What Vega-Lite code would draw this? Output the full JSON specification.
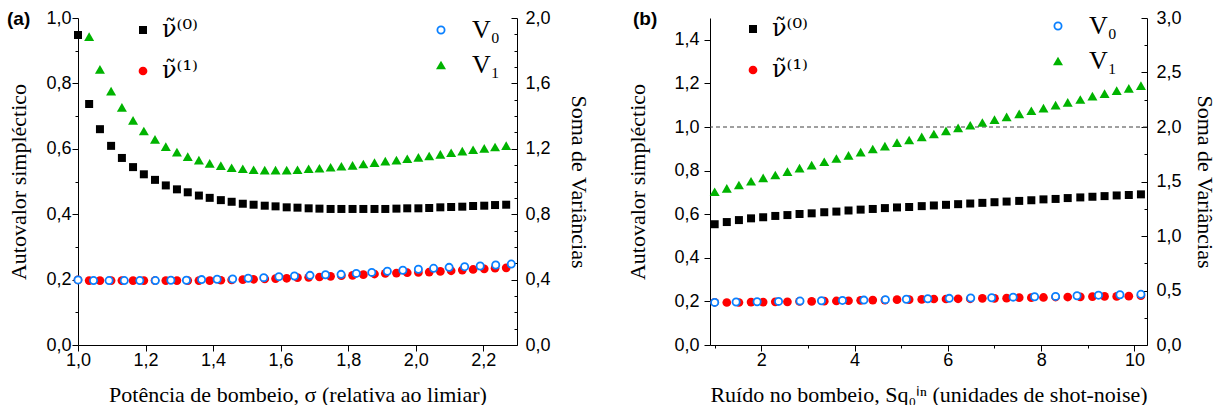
{
  "$schema": "https://vega.github.io/schema/vega-lite/v6.json",
  "padding": {"left": 7, "top": 9, "right": 5, "bottom": 0},
  "bounds": "flush",
  "spacing": 193,
  "config": {
    "view": {"stroke": null},
    "axis": {"domainColor": "#000", "tickColor": "#000", "labelColor": "#000", "titleColor": "#000", "labelFont": "Liberation Sans", "labelFontSize": 18, "titleFont": "Liberation Serif", "titleFontSize": 22, "titleFontWeight": "normal", "grid": false, "labelFlush": false, "labelOverlap": false, "domainWidth": 1, "tickWidth": 1},
    "legend": {"labelColor": "#000", "labelFont": "DejaVu Serif", "labelFontSize": 24, "padding": 0, "title": null}
  },
  "datasets": {
    "aL": [
      {"s":"n0","x":1.000,"v":0.948},{"s":"n0","x":1.033,"v":0.737},{"s":"n0","x":1.065,"v":0.660},{"s":"n0","x":1.098,"v":0.609},{"s":"n0","x":1.130,"v":0.572},{"s":"n0","x":1.163,"v":0.544},{"s":"n0","x":1.195,"v":0.522},{"s":"n0","x":1.228,"v":0.505},{"s":"n0","x":1.260,"v":0.488},{"s":"n0","x":1.293,"v":0.476},
      {"s":"n0","x":1.325,"v":0.467},{"s":"n0","x":1.358,"v":0.457},{"s":"n0","x":1.390,"v":0.450},{"s":"n0","x":1.423,"v":0.443},{"s":"n0","x":1.455,"v":0.438},{"s":"n0","x":1.488,"v":0.432},{"s":"n0","x":1.520,"v":0.429},{"s":"n0","x":1.553,"v":0.426},{"s":"n0","x":1.585,"v":0.424},{"s":"n0","x":1.618,"v":0.421},
      {"s":"n0","x":1.650,"v":0.420},{"s":"n0","x":1.683,"v":0.418},{"s":"n0","x":1.715,"v":0.417},{"s":"n0","x":1.748,"v":0.416},{"s":"n0","x":1.780,"v":0.416},{"s":"n0","x":1.813,"v":0.416},{"s":"n0","x":1.845,"v":0.416},{"s":"n0","x":1.878,"v":0.416},{"s":"n0","x":1.910,"v":0.416},{"s":"n0","x":1.943,"v":0.417},
      {"s":"n0","x":1.975,"v":0.418},{"s":"n0","x":2.008,"v":0.418},{"s":"n0","x":2.040,"v":0.419},{"s":"n0","x":2.073,"v":0.421},{"s":"n0","x":2.105,"v":0.422},{"s":"n0","x":2.138,"v":0.423},{"s":"n0","x":2.170,"v":0.425},{"s":"n0","x":2.203,"v":0.426},{"s":"n0","x":2.235,"v":0.428},{"s":"n0","x":2.268,"v":0.429},
      {"s":"n1","x":1.000,"v":0.199},{"s":"n1","x":1.033,"v":0.197},{"s":"n1","x":1.065,"v":0.197},{"s":"n1","x":1.098,"v":0.197},{"s":"n1","x":1.130,"v":0.197},{"s":"n1","x":1.163,"v":0.197},{"s":"n1","x":1.195,"v":0.197},{"s":"n1","x":1.228,"v":0.197},{"s":"n1","x":1.260,"v":0.197},{"s":"n1","x":1.293,"v":0.197},
      {"s":"n1","x":1.325,"v":0.197},{"s":"n1","x":1.358,"v":0.197},{"s":"n1","x":1.390,"v":0.197},{"s":"n1","x":1.423,"v":0.198},{"s":"n1","x":1.455,"v":0.199},{"s":"n1","x":1.488,"v":0.200},{"s":"n1","x":1.520,"v":0.201},{"s":"n1","x":1.553,"v":0.202},{"s":"n1","x":1.585,"v":0.203},{"s":"n1","x":1.618,"v":0.204},
      {"s":"n1","x":1.650,"v":0.206},{"s":"n1","x":1.683,"v":0.207},{"s":"n1","x":1.715,"v":0.208},{"s":"n1","x":1.748,"v":0.210},{"s":"n1","x":1.780,"v":0.212},{"s":"n1","x":1.813,"v":0.213},{"s":"n1","x":1.845,"v":0.215},{"s":"n1","x":1.878,"v":0.217},{"s":"n1","x":1.910,"v":0.219},{"s":"n1","x":1.943,"v":0.220},
      {"s":"n1","x":1.975,"v":0.221},{"s":"n1","x":2.008,"v":0.222},{"s":"n1","x":2.040,"v":0.223},{"s":"n1","x":2.073,"v":0.225},{"s":"n1","x":2.105,"v":0.227},{"s":"n1","x":2.138,"v":0.229},{"s":"n1","x":2.170,"v":0.231},{"s":"n1","x":2.203,"v":0.233},{"s":"n1","x":2.235,"v":0.235},{"s":"n1","x":2.268,"v":0.236}
    ],
    "aR": [
      {"s":"V0","x":1.000,"v":0.398},{"s":"V0","x":1.046,"v":0.394},{"s":"V0","x":1.092,"v":0.394},{"s":"V0","x":1.137,"v":0.394},{"s":"V0","x":1.183,"v":0.394},{"s":"V0","x":1.229,"v":0.394},{"s":"V0","x":1.275,"v":0.396},{"s":"V0","x":1.321,"v":0.396},{"s":"V0","x":1.366,"v":0.400},{"s":"V0","x":1.412,"v":0.402},
      {"s":"V0","x":1.458,"v":0.404},{"s":"V0","x":1.504,"v":0.408},{"s":"V0","x":1.550,"v":0.412},{"s":"V0","x":1.595,"v":0.418},{"s":"V0","x":1.641,"v":0.422},{"s":"V0","x":1.687,"v":0.426},{"s":"V0","x":1.733,"v":0.430},{"s":"V0","x":1.779,"v":0.432},{"s":"V0","x":1.824,"v":0.438},{"s":"V0","x":1.870,"v":0.444},
      {"s":"V0","x":1.916,"v":0.451},{"s":"V0","x":1.962,"v":0.457},{"s":"V0","x":2.008,"v":0.463},{"s":"V0","x":2.053,"v":0.469},{"s":"V0","x":2.099,"v":0.475},{"s":"V0","x":2.145,"v":0.479},{"s":"V0","x":2.191,"v":0.483},{"s":"V0","x":2.237,"v":0.489},{"s":"V0","x":2.283,"v":0.495},
      {"s":"V1","x":1.033,"v":1.886},{"s":"V1","x":1.065,"v":1.686},{"s":"V1","x":1.098,"v":1.553},{"s":"V1","x":1.130,"v":1.453},{"s":"V1","x":1.163,"v":1.374},{"s":"V1","x":1.195,"v":1.309},{"s":"V1","x":1.228,"v":1.258},{"s":"V1","x":1.260,"v":1.213},{"s":"V1","x":1.293,"v":1.180},
      {"s":"V1","x":1.325,"v":1.152},{"s":"V1","x":1.358,"v":1.131},{"s":"V1","x":1.390,"v":1.111},{"s":"V1","x":1.423,"v":1.097},{"s":"V1","x":1.455,"v":1.084},{"s":"V1","x":1.488,"v":1.078},{"s":"V1","x":1.520,"v":1.072},{"s":"V1","x":1.553,"v":1.070},{"s":"V1","x":1.585,"v":1.070},{"s":"V1","x":1.618,"v":1.070},
      {"s":"V1","x":1.650,"v":1.072},{"s":"V1","x":1.683,"v":1.078},{"s":"V1","x":1.715,"v":1.081},{"s":"V1","x":1.748,"v":1.087},{"s":"V1","x":1.780,"v":1.093},{"s":"V1","x":1.813,"v":1.099},{"s":"V1","x":1.845,"v":1.107},{"s":"V1","x":1.878,"v":1.115},{"s":"V1","x":1.910,"v":1.125},{"s":"V1","x":1.943,"v":1.131},
      {"s":"V1","x":1.975,"v":1.139},{"s":"V1","x":2.008,"v":1.148},{"s":"V1","x":2.040,"v":1.156},{"s":"V1","x":2.073,"v":1.166},{"s":"V1","x":2.105,"v":1.176},{"s":"V1","x":2.138,"v":1.186},{"s":"V1","x":2.170,"v":1.194},{"s":"V1","x":2.203,"v":1.203},{"s":"V1","x":2.235,"v":1.211},{"s":"V1","x":2.268,"v":1.219}
    ],
    "bL": [
      {"s":"n0","x":1.00,"v":0.554},{"s":"n0","x":1.26,"v":0.564},{"s":"n0","x":1.52,"v":0.573},{"s":"n0","x":1.78,"v":0.581},{"s":"n0","x":2.04,"v":0.586},{"s":"n0","x":2.30,"v":0.592},{"s":"n0","x":2.56,"v":0.596},{"s":"n0","x":2.82,"v":0.601},{"s":"n0","x":3.08,"v":0.604},{"s":"n0","x":3.35,"v":0.609},
      {"s":"n0","x":3.61,"v":0.612},{"s":"n0","x":3.87,"v":0.617},{"s":"n0","x":4.13,"v":0.621},{"s":"n0","x":4.39,"v":0.624},{"s":"n0","x":4.65,"v":0.628},{"s":"n0","x":4.91,"v":0.631},{"s":"n0","x":5.17,"v":0.633},{"s":"n0","x":5.44,"v":0.637},{"s":"n0","x":5.70,"v":0.640},{"s":"n0","x":5.96,"v":0.643},
      {"s":"n0","x":6.22,"v":0.646},{"s":"n0","x":6.48,"v":0.649},{"s":"n0","x":6.74,"v":0.652},{"s":"n0","x":7.00,"v":0.655},{"s":"n0","x":7.26,"v":0.658},{"s":"n0","x":7.53,"v":0.661},{"s":"n0","x":7.79,"v":0.664},{"s":"n0","x":8.05,"v":0.668},{"s":"n0","x":8.31,"v":0.670},{"s":"n0","x":8.57,"v":0.674},
      {"s":"n0","x":8.84,"v":0.677},{"s":"n0","x":9.10,"v":0.680},{"s":"n0","x":9.36,"v":0.683},{"s":"n0","x":9.62,"v":0.686},{"s":"n0","x":9.88,"v":0.688},{"s":"n0","x":10.14,"v":0.691},
      {"s":"n1","x":1.00,"v":0.196},{"s":"n1","x":1.26,"v":0.195},{"s":"n1","x":1.52,"v":0.195},{"s":"n1","x":1.78,"v":0.197},{"s":"n1","x":2.04,"v":0.197},{"s":"n1","x":2.30,"v":0.198},{"s":"n1","x":2.56,"v":0.198},{"s":"n1","x":2.82,"v":0.200},{"s":"n1","x":3.08,"v":0.200},{"s":"n1","x":3.35,"v":0.201},
      {"s":"n1","x":3.61,"v":0.202},{"s":"n1","x":3.87,"v":0.203},{"s":"n1","x":4.13,"v":0.205},{"s":"n1","x":4.39,"v":0.206},{"s":"n1","x":4.65,"v":0.206},{"s":"n1","x":4.91,"v":0.208},{"s":"n1","x":5.17,"v":0.208},{"s":"n1","x":5.44,"v":0.209},{"s":"n1","x":5.70,"v":0.211},{"s":"n1","x":5.96,"v":0.211},
      {"s":"n1","x":6.22,"v":0.212},{"s":"n1","x":6.48,"v":0.212},{"s":"n1","x":6.74,"v":0.214},{"s":"n1","x":7.00,"v":0.214},{"s":"n1","x":7.26,"v":0.215},{"s":"n1","x":7.53,"v":0.217},{"s":"n1","x":7.79,"v":0.217},{"s":"n1","x":8.05,"v":0.218},{"s":"n1","x":8.31,"v":0.220},{"s":"n1","x":8.57,"v":0.220},
      {"s":"n1","x":8.84,"v":0.221},{"s":"n1","x":9.10,"v":0.222},{"s":"n1","x":9.36,"v":0.223},{"s":"n1","x":9.62,"v":0.223},{"s":"n1","x":9.88,"v":0.224},{"s":"n1","x":10.14,"v":0.226}
    ],
    "bR": [
      {"s":"V0","x":1.00,"v":0.391},{"s":"V0","x":1.46,"v":0.394},{"s":"V0","x":1.91,"v":0.397},{"s":"V0","x":2.37,"v":0.400},{"s":"V0","x":2.83,"v":0.403},{"s":"V0","x":3.29,"v":0.406},{"s":"V0","x":3.74,"v":0.409},{"s":"V0","x":4.20,"v":0.412},{"s":"V0","x":4.66,"v":0.416},{"s":"V0","x":5.11,"v":0.420},
      {"s":"V0","x":5.57,"v":0.424},{"s":"V0","x":6.03,"v":0.428},{"s":"V0","x":6.49,"v":0.431},{"s":"V0","x":6.94,"v":0.434},{"s":"V0","x":7.40,"v":0.439},{"s":"V0","x":7.86,"v":0.443},{"s":"V0","x":8.31,"v":0.446},{"s":"V0","x":8.77,"v":0.452},{"s":"V0","x":9.23,"v":0.457},{"s":"V0","x":9.69,"v":0.461},{"s":"V0","x":10.14,"v":0.465},
      {"s":"V1","x":1.00,"v":1.406},{"s":"V1","x":1.26,"v":1.437},{"s":"V1","x":1.52,"v":1.468},{"s":"V1","x":1.78,"v":1.502},{"s":"V1","x":2.04,"v":1.533},{"s":"V1","x":2.30,"v":1.560},{"s":"V1","x":2.56,"v":1.591},{"s":"V1","x":2.82,"v":1.622},{"s":"V1","x":3.08,"v":1.650},{"s":"V1","x":3.35,"v":1.681},
      {"s":"V1","x":3.61,"v":1.711},{"s":"V1","x":3.87,"v":1.739},{"s":"V1","x":4.13,"v":1.770},{"s":"V1","x":4.39,"v":1.798},{"s":"V1","x":4.65,"v":1.825},{"s":"V1","x":4.91,"v":1.856},{"s":"V1","x":5.17,"v":1.881},{"s":"V1","x":5.44,"v":1.909},{"s":"V1","x":5.70,"v":1.936},{"s":"V1","x":5.96,"v":1.964},
      {"s":"V1","x":6.22,"v":1.992},{"s":"V1","x":6.48,"v":2.016},{"s":"V1","x":6.74,"v":2.041},{"s":"V1","x":7.00,"v":2.068},{"s":"V1","x":7.26,"v":2.093},{"s":"V1","x":7.53,"v":2.121},{"s":"V1","x":7.79,"v":2.149},{"s":"V1","x":8.05,"v":2.173},{"s":"V1","x":8.31,"v":2.200},{"s":"V1","x":8.57,"v":2.226},
      {"s":"V1","x":8.84,"v":2.252},{"s":"V1","x":9.10,"v":2.283},{"s":"V1","x":9.36,"v":2.306},{"s":"V1","x":9.62,"v":2.333},{"s":"V1","x":9.88,"v":2.355},{"s":"V1","x":10.14,"v":2.379}
    ]
  },
  "hconcat": [
    {
      "width": 439,
      "height": 327,
      "title": {"text": "(a)", "anchor": "start", "frame": "group", "orient": "top", "dx": -71, "dy": 20, "offset": 0, "baseline": "top", "font": "Liberation Sans", "fontSize": 19, "fontWeight": "bold", "color": "#000"},
      "layer": [
        {
          "data": {"name": "aL"},
          "mark": {"type": "point", "filled": true, "opacity": 1, "strokeWidth": 0},
          "encoding": {
            "x": {"field": "x", "type": "quantitative", "scale": {"domain": [1.0, 2.3], "nice": false, "zero": false},
              "axis": {"orient": "bottom", "values": [1.0, 1.1, 1.2, 1.3, 1.4, 1.5, 1.6, 1.7, 1.8, 1.9, 2.0, 2.1, 2.2, 2.3],
                "labelExpr": "abs(datum.value*5-round(datum.value*5))<0.01 ? replace(format(datum.value,'.1f'),'.',',') : ''",
                "tickSize": {"condition": {"test": "abs(datum.value*5-round(datum.value*5))<0.01", "value": 6}, "value": 3},
                "labelPadding": 0, "title": "Potência de bombeio, σ (relativa ao limiar)", "titlePadding": 15}},
            "y": {"field": "v", "type": "quantitative", "scale": {"domain": [0, 1.0], "nice": false},
              "axis": {"orient": "left", "values": [0, 0.1, 0.2, 0.3, 0.4, 0.5, 0.6, 0.7, 0.8, 0.9, 1.0],
                "labelExpr": "abs(datum.value*5-round(datum.value*5))<0.01 ? replace(format(datum.value,'.1f'),'.',',') : ''",
                "tickSize": {"condition": {"test": "abs(datum.value*5-round(datum.value*5))<0.01", "value": 6}, "value": 3},
                "labelPadding": 1, "title": "Autovalor simpléctico", "titlePadding": 15}},
            "shape": {"field": "s", "type": "nominal", "scale": {"domain": ["n0", "n1"], "range": ["square", "circle"]},
              "legend": {"orient": "none", "legendX": 53, "legendY": 0, "labelExpr": "datum.label == 'n0' ? 'ν̃⁽⁰⁾' : 'ν̃⁽¹⁾'", "labelOffset": 7, "rowPadding": 17, "symbolStrokeWidth": 0}},
            "fill": {"field": "s", "type": "nominal", "scale": {"domain": ["n0", "n1"], "range": ["#000000", "#ff0000"]},
              "legend": {"orient": "none", "legendX": 53, "legendY": 0, "labelExpr": "datum.label == 'n0' ? 'ν̃⁽⁰⁾' : 'ν̃⁽¹⁾'", "labelOffset": 7, "rowPadding": 17, "symbolStrokeWidth": 0}},
            "size": {"field": "s", "type": "ordinal", "scale": {"type": "ordinal", "domain": ["n0", "n1"], "range": [64, 76]},
              "legend": {"orient": "none", "legendX": 53, "legendY": 0, "labelExpr": "datum.label == 'n0' ? 'ν̃⁽⁰⁾' : 'ν̃⁽¹⁾'", "labelOffset": 7, "rowPadding": 17, "symbolStrokeWidth": 0}}
          }
        },
        {
          "data": {"name": "aR"},
          "mark": {"type": "point", "filled": true, "opacity": 1, "strokeWidth": 1.8},
          "encoding": {
            "x": {"field": "x", "type": "quantitative"},
            "y": {"field": "v", "type": "quantitative", "scale": {"domain": [0, 2.0], "nice": false},
              "axis": {"orient": "right", "values": [0, 0.1, 0.2, 0.3, 0.4, 0.5, 0.6, 0.7, 0.8, 0.9, 1.0, 1.1, 1.2, 1.3, 1.4, 1.5, 1.6, 1.7, 1.8, 1.9, 2.0],
                "labelExpr": "abs(datum.value*2.5-round(datum.value*2.5))<0.01 ? replace(format(datum.value,'.1f'),'.',',') : ''",
                "tickSize": {"condition": {"test": "abs(datum.value*2.5-round(datum.value*2.5))<0.01", "value": -6}, "value": -3},
                "labelPadding": 14, "title": "Soma de Variâncias", "titlePadding": 16}},
            "shape": {"field": "s", "type": "nominal", "scale": {"domain": ["V0", "V1"], "range": ["circle", "triangle-up"]},
              "legend": {"orient": "none", "legendX": 350, "legendY": -1, "labelExpr": "datum.label == 'V0' ? 'V₀' : 'V₁'", "labelFont": "Liberation Serif", "labelFontSize": 26, "labelOffset": 18, "rowPadding": 9, "symbolStrokeWidth": 1.8}},
            "fill": {"field": "s", "type": "nominal", "scale": {"domain": ["V0", "V1"], "range": ["#ffffff", "#00b300"]},
              "legend": {"orient": "none", "legendX": 350, "legendY": -1, "labelExpr": "datum.label == 'V0' ? 'V₀' : 'V₁'", "labelFont": "Liberation Serif", "labelFontSize": 26, "labelOffset": 18, "rowPadding": 9, "symbolStrokeWidth": 1.8}},
            "stroke": {"field": "s", "type": "nominal", "scale": {"domain": ["V0", "V1"], "range": ["#0a80ff", "rgba(0,0,0,0)"]},
              "legend": {"orient": "none", "legendX": 350, "legendY": -1, "labelExpr": "datum.label == 'V0' ? 'V₀' : 'V₁'", "labelFont": "Liberation Serif", "labelFontSize": 26, "labelOffset": 18, "rowPadding": 9, "symbolStrokeWidth": 1.8}},
            "size": {"field": "s", "type": "ordinal", "scale": {"type": "ordinal", "domain": ["V0", "V1"], "range": [52, 100]},
              "legend": {"orient": "none", "legendX": 350, "legendY": -1, "labelExpr": "datum.label == 'V0' ? 'V₀' : 'V₁'", "labelFont": "Liberation Serif", "labelFontSize": 26, "labelOffset": 18, "rowPadding": 9, "symbolStrokeWidth": 1.8}}
          }
        }
      ],
      "resolve": {"scale": {"y": "independent", "shape": "independent", "fill": "independent", "stroke": "independent", "size": "independent"}, "axis": {"y": "independent"}, "legend": {"shape": "independent", "fill": "independent", "stroke": "independent", "size": "independent"}}
    },
    {
      "width": 437,
      "height": 327,
      "title": {"text": "(b)", "anchor": "start", "frame": "group", "orient": "top", "dx": -77, "dy": 20, "offset": 0, "baseline": "top", "font": "Liberation Sans", "fontSize": 19, "fontWeight": "bold", "color": "#000"},
      "layer": [
        {
          "layer": [
            {
              "data": {"name": "bL"},
              "mark": {"type": "point", "filled": true, "opacity": 1, "strokeWidth": 0},
              "encoding": {
                "x": {"field": "x", "type": "quantitative", "scale": {"domain": [0.9, 10.27], "nice": false, "zero": false},
                  "axis": {"orient": "bottom", "values": [1, 2, 3, 4, 5, 6, 7, 8, 9, 10],
                    "labelExpr": "datum.value % 2 == 0 ? format(datum.value,'d') : ''",
                    "tickSize": {"condition": {"test": "datum.value % 2 == 0", "value": 6}, "value": 3},
                    "labelPadding": 0, "title": "Ruído no bombeio, Sq₀ⁱⁿ (unidades de shot-noise)", "titlePadding": 15}},
                "y": {"field": "v", "type": "quantitative", "scale": {"domain": [0, 1.5], "nice": false},
                  "axis": {"orient": "left", "values": [0, 0.1, 0.2, 0.3, 0.4, 0.5, 0.6, 0.7, 0.8, 0.9, 1.0, 1.1, 1.2, 1.3, 1.4, 1.5],
                    "labelExpr": "abs(datum.value*5-round(datum.value*5))<0.01 ? replace(format(datum.value,'.1f'),'.',',') : ''",
                    "tickSize": {"condition": {"test": "abs(datum.value*5-round(datum.value*5))<0.01", "value": 6}, "value": 3},
                    "labelPadding": 5, "title": "Autovalor simpléctico", "titlePadding": 24}},
                "shape": {"field": "s", "type": "nominal", "scale": {"domain": ["n0", "n1"], "range": ["square", "circle"]},
                  "legend": {"orient": "none", "legendX": 31, "legendY": -1, "labelExpr": "datum.label == 'n0' ? 'ν̃⁽⁰⁾' : 'ν̃⁽¹⁾'", "labelOffset": 7, "rowPadding": 17, "symbolStrokeWidth": 0}},
                "fill": {"field": "s", "type": "nominal", "scale": {"domain": ["n0", "n1"], "range": ["#000000", "#ff0000"]},
                  "legend": {"orient": "none", "legendX": 31, "legendY": -1, "labelExpr": "datum.label == 'n0' ? 'ν̃⁽⁰⁾' : 'ν̃⁽¹⁾'", "labelOffset": 7, "rowPadding": 17, "symbolStrokeWidth": 0}},
                "size": {"field": "s", "type": "ordinal", "scale": {"type": "ordinal", "domain": ["n0", "n1"], "range": [64, 76]},
                  "legend": {"orient": "none", "legendX": 31, "legendY": -1, "labelExpr": "datum.label == 'n0' ? 'ν̃⁽⁰⁾' : 'ν̃⁽¹⁾'", "labelOffset": 7, "rowPadding": 17, "symbolStrokeWidth": 0}}
              }
            },
            {
              "data": {"values": [{}]},
              "mark": {"type": "rule", "color": "#404040", "strokeWidth": 1, "strokeDash": [4, 3]},
              "encoding": {"y": {"datum": 1.0, "type": "quantitative"}}
            }
          ]
        },
        {
          "data": {"name": "bR"},
          "mark": {"type": "point", "filled": true, "opacity": 1, "strokeWidth": 1.8},
          "encoding": {
            "x": {"field": "x", "type": "quantitative"},
            "y": {"field": "v", "type": "quantitative", "scale": {"domain": [0, 3.0], "nice": false},
              "axis": {"orient": "right", "values": [0, 0.25, 0.5, 0.75, 1.0, 1.25, 1.5, 1.75, 2.0, 2.25, 2.5, 2.75, 3.0],
                "labelExpr": "abs(datum.value*2-round(datum.value*2))<0.01 ? replace(format(datum.value,'.1f'),'.',',') : ''",
                "tickSize": {"condition": {"test": "abs(datum.value*2-round(datum.value*2))<0.01", "value": -6}, "value": -3},
                "labelPadding": 15, "title": "Soma de Variâncias", "titlePadding": 11}},
            "shape": {"field": "s", "type": "nominal", "scale": {"domain": ["V0", "V1"], "range": ["circle", "triangle-up"]},
              "legend": {"orient": "none", "legendX": 335, "legendY": -5, "labelExpr": "datum.label == 'V0' ? 'V₀' : 'V₁'", "labelFont": "Liberation Serif", "labelFontSize": 26, "labelOffset": 18, "rowPadding": 9, "symbolStrokeWidth": 1.8}},
            "fill": {"field": "s", "type": "nominal", "scale": {"domain": ["V0", "V1"], "range": ["#ffffff", "#00b300"]},
              "legend": {"orient": "none", "legendX": 335, "legendY": -5, "labelExpr": "datum.label == 'V0' ? 'V₀' : 'V₁'", "labelFont": "Liberation Serif", "labelFontSize": 26, "labelOffset": 18, "rowPadding": 9, "symbolStrokeWidth": 1.8}},
            "stroke": {"field": "s", "type": "nominal", "scale": {"domain": ["V0", "V1"], "range": ["#0a80ff", "rgba(0,0,0,0)"]},
              "legend": {"orient": "none", "legendX": 335, "legendY": -5, "labelExpr": "datum.label == 'V0' ? 'V₀' : 'V₁'", "labelFont": "Liberation Serif", "labelFontSize": 26, "labelOffset": 18, "rowPadding": 9, "symbolStrokeWidth": 1.8}},
            "size": {"field": "s", "type": "ordinal", "scale": {"type": "ordinal", "domain": ["V0", "V1"], "range": [52, 100]},
              "legend": {"orient": "none", "legendX": 335, "legendY": -5, "labelExpr": "datum.label == 'V0' ? 'V₀' : 'V₁'", "labelFont": "Liberation Serif", "labelFontSize": 26, "labelOffset": 18, "rowPadding": 9, "symbolStrokeWidth": 1.8}}
          }
        }
      ],
      "resolve": {"scale": {"y": "independent", "shape": "independent", "fill": "independent", "stroke": "independent", "size": "independent"}, "axis": {"y": "independent"}, "legend": {"shape": "independent", "fill": "independent", "stroke": "independent", "size": "independent"}}
    }
  ],
  "resolve": {"scale": {"shape": "independent", "fill": "independent", "stroke": "independent", "size": "independent"}, "legend": {"shape": "independent", "fill": "independent", "stroke": "independent", "size": "independent"}}
}
